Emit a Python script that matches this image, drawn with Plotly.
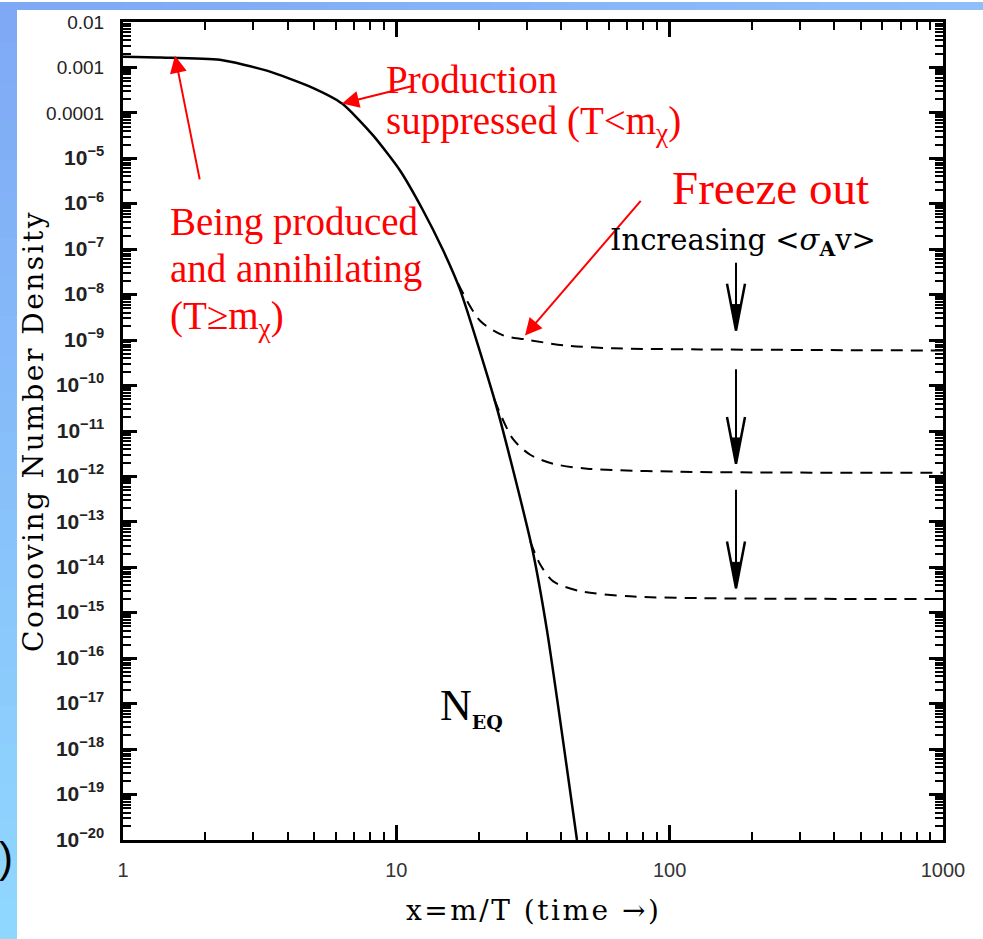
import plotly.graph_objects as go

# ---------------- data ----------------
x_eq = [1.0, 1.37, 2.26, 3.36, 4.83, 6.33, 8.22, 10.3, 12.5, 14.8, 17.1, 23.4, 31.4, 35.6, 45.8]
y_eq = [1.71e-3, 1.65e-3, 1.47e-3, 8.5e-4, 3.78e-4, 1.6e-4, 3.19e-5, 5.46e-6, 7.3e-7,
        9.7e-8, 1.29e-8, 3.0e-11, 2.6e-14, 4.0e-16, 1.0e-20]

x_f1 = [16.8, 20.2, 24.6, 29.6, 40.8, 62.1, 129, 1000]
y_f1 = [1.8e-8, 2.7e-9, 1.27e-9, 1.04e-9, 7.7e-10, 6.6e-10, 6.25e-10, 5.9e-10]

x_f2 = [22.8, 26.7, 30.9, 37.5, 49.9, 109, 1000]
y_f2 = [5.0e-11, 6.7e-12, 3.0e-12, 1.9e-12, 1.48e-12, 1.27e-12, 1.2e-12]

x_f3 = [30.9, 33.6, 37.5, 47.0, 71.6, 129, 1000]
y_f3 = [3.7e-14, 1.16e-14, 4.9e-15, 3.0e-15, 2.3e-15, 2.1e-15, 2.0e-15]

y_tickvals = [10.0 ** -k for k in range(2, 21)]
y_ticktext = (["0.01", "0.001", "0.0001"] +
              ["<span style='font-size:21px'><b>10<sup>\u2212%d</sup></b></span>" % k for k in range(5, 21)])
x_tickvals = [1, 10, 100, 1000]
x_ticktext = ["1", "10", "100", "1000"]

# ---------------- layout geometry ----------------
W, H = 983, 939
L, R, T, B = 123, 943, 18, 840


def px(x):
    return (x - L) / (R - L)


def py(y):
    return (B - y) / (B - T)


minor_y = [m * 10.0 ** k for k in range(-20, -2) for m in range(2, 10)]
minor_x = [m * 10.0 ** k for k in range(0, 3) for m in range(2, 10)]

fig = go.Figure()
fig.add_trace(go.Scatter(x=x_eq, y=y_eq, mode="lines",
                         line=dict(color="black", width=2.5, shape="spline", smoothing=0.6),
                         hoverinfo="skip", showlegend=False))
for xs, ys in [(x_f1, y_f1), (x_f2, y_f2), (x_f3, y_f3)]:
    fig.add_trace(go.Scatter(x=xs, y=ys, mode="lines",
                             line=dict(color="black", width=2, dash="12px,8px",
                                       shape="spline", smoothing=0.8),
                             hoverinfo="skip", showlegend=False))

shapes = []
# slide background strips (blue gradient)
top_col = (0x7f, 0xa8, 0xf5)
bot_col = (0x90, 0xd8, 0xff)
right_col = (0x8e, 0xbf, 0xfa)
nb = 24
for i in range(nb):
    f = (i + 0.5) / nb
    c = tuple(int(round(top_col[j] + (bot_col[j] - top_col[j]) * f)) for j in range(3))
    y0 = i * H / nb
    y1 = (i + 1) * H / nb + 1
    shapes.append(dict(type="rect", xref="paper", yref="paper", x0=px(-2), x1=px(17),
                       y0=py(y0), y1=py(y1), fillcolor="rgb(%d,%d,%d)" % c, line=dict(width=0),
                       layer="below"))
for i in range(nb):
    f = (i + 0.5) / nb
    c = tuple(int(round(top_col[j] + (right_col[j] - top_col[j]) * f)) for j in range(3))
    x0 = i * W / nb
    x1 = (i + 1) * W / nb + 1
    shapes.append(dict(type="rect", xref="paper", yref="paper", x0=px(x0), x1=px(x1),
                       y0=py(6), y1=py(-2), fillcolor="rgb(%d,%d,%d)" % c, line=dict(width=0),
                       layer="below"))

# black "increasing <sigma v>" arrows
for tail, tip in [(260, 328), (367, 462), (488, 587)]:
    xa = 736
    shapes.append(dict(type="line", xref="paper", yref="paper", x0=px(xa), x1=px(xa),
                       y0=py(tail), y1=py(tip - 3), line=dict(color="black", width=2)))
    shapes.append(dict(type="path", xref="paper", yref="paper",
                       path="M %f,%f L %f,%f L %f,%f" % (px(xa - 9), py(tip - 47), px(xa), py(tip),
                                                        px(xa + 9), py(tip - 47)),
                       line=dict(color="black", width=2.5)))
    shapes.append(dict(type="path", xref="paper", yref="paper",
                       path="M %f,%f L %f,%f L %f,%f Z" % (px(xa - 4), py(tip - 26), px(xa), py(tip),
                                                          px(xa + 4), py(tip - 26)),
                       fillcolor="black", line=dict(color="black", width=1)))

ann = []
SERIF = "Liberation Serif"
DSERIF = "DejaVu Serif"


def text(xp, yp, s, size, color="red", family=SERIF, xanchor="left", angle=0):
    ann.append(dict(xref="paper", yref="paper", x=px(xp), y=py(yp), text=s, showarrow=False,
                    xanchor=xanchor, yanchor="middle", textangle=angle,
                    font=dict(family=family, size=size, color=color)))


def arrow(hx, hy, tx, ty, color="red"):
    ann.append(dict(xref="paper", yref="paper", x=px(hx), y=py(hy), ax=tx - hx, ay=ty - hy,
                    axref="pixel", ayref="pixel", text="", showarrow=True, arrowhead=2,
                    arrowsize=1.7, arrowwidth=2, arrowcolor=color, standoff=0))


arrow(175, 52, 200, 177)
arrow(342, 100, 414, 82)
arrow(525, 333, 642, 197)

text(384, 76, "Production", 39)
text(384, 120, "suppressed (T&lt;m<sub>\u03c7</sub>)", 39)
text(670, 185, "Freeze out", 47)
text(168, 219, "Being produced", 39)
text(168, 266, "and annihilating", 39)
text(168, 316, "(T\u2265m<sub>\u03c7</sub>)", 39)
text(608, 239, "Increasing &lt;<i>\u03c3</i><sub><b>A</b></sub>v&gt;", 29, color="black", family=DSERIF)
text(438, 706, "N<sub><span style='font-family:DejaVu Serif;font-weight:bold;font-size:19px'>EQ</span></sub>",
     44, color="black")
text(33, 429, "<span style='letter-spacing:2.5px'>Comoving Number Density</span>", 28,
     color="black", family=DSERIF, xanchor="center", angle=-90)
text(533, 911, "<span style='letter-spacing:2.5px'>x=m/T (time \u2192)</span>", 28,
     color="black", family=DSERIF, xanchor="center")
text(15, 858, ")", 42, color="black", family="Liberation Sans", xanchor="right")

axis_common = dict(type="log", showgrid=False, zeroline=False, showline=True, linecolor="black",
                   linewidth=3, mirror="allticks", ticks="inside", tickcolor="black")

fig.update_layout(
    width=W, height=H,
    margin=dict(l=L, r=W - R, t=T, b=H - B, pad=0),
    paper_bgcolor="white", plot_bgcolor="white",
    showlegend=False,
    shapes=shapes, annotations=ann,
    xaxis=dict(**axis_common, range=[0, 3], tickmode="array", tickvals=x_tickvals,
               ticktext=x_ticktext, ticklen=15, tickwidth=2.5, ticklabelstandoff=10,
               tickfont=dict(family="Liberation Sans", size=20, color="#333"),
               minor=dict(ticks="inside", tickmode="array", tickvals=minor_x, ticklen=8,
                          tickwidth=2, tickcolor="black", showgrid=False)),
    yaxis=dict(**axis_common, range=[-20, -2], tickmode="array", tickvals=y_tickvals,
               ticktext=y_ticktext, ticklen=14, tickwidth=3, ticklabelstandoff=12,
               tickfont=dict(family="Liberation Sans", size=19, color="#222"),
               minor=dict(ticks="inside", tickmode="array", tickvals=minor_y, ticklen=8,
                          tickwidth=2, tickcolor="black", showgrid=False)),
)

fig.write_html("out.html", config=dict(displayModeBar=False),
               post_script="document.body.style.margin='0';document.body.style.overflow='hidden';")
